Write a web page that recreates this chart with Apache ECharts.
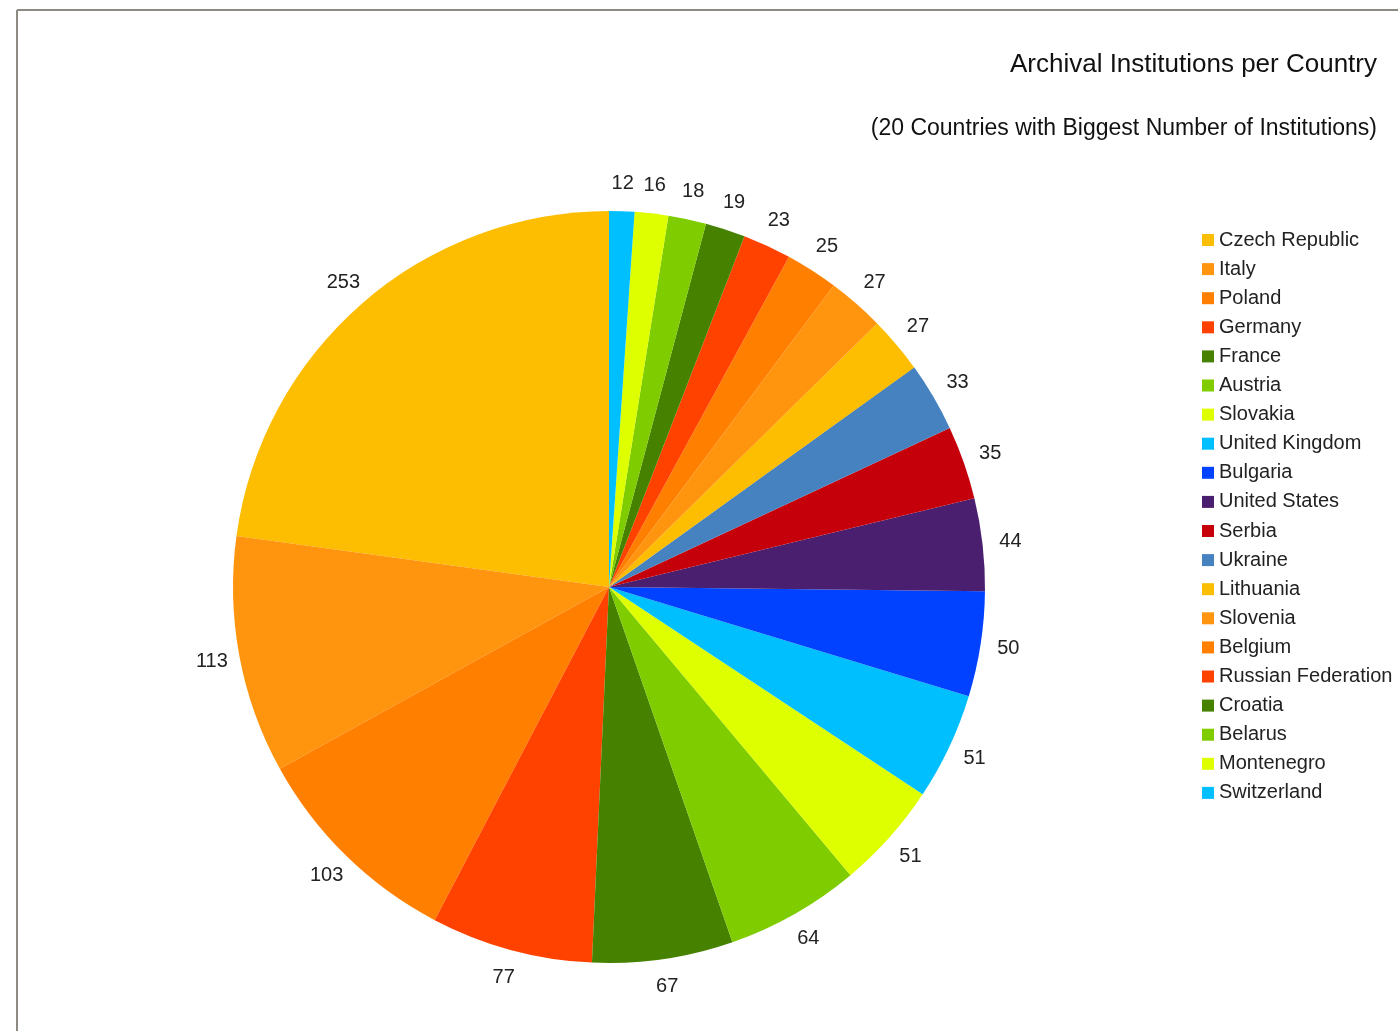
<!DOCTYPE html>
<html>
<head>
<meta charset="utf-8">
<script src="https://cdn.jsdelivr.net/npm/echarts@6/dist/echarts.min.js"></script>
<style>
html,body{margin:0;padding:0;background:#fff;}
#chart{width:1398px;height:1031px;}
</style>
</head>
<body>
<div id="chart"></div>
<script>
const countries = ["Czech Republic","Italy","Poland","Germany","France","Austria","Slovakia","United Kingdom","Bulgaria","United States","Serbia","Ukraine","Lithuania","Slovenia","Belgium","Russian Federation","Croatia","Belarus","Montenegro","Switzerland"];
const institutions = [253,113,103,77,67,64,51,51,50,44,35,33,27,27,25,23,19,18,16,12];
const palette = ["#fdbd00","#ff950e","#ff8000","#ff4200","#468200","#7fcc00","#ddff00","#00bfff","#0042ff","#4b1f6f","#c5000b","#4682c0"];

const data = countries.map((c, i) => ({ name: c, value: institutions[i] }));

const chart = echarts.init(document.getElementById('chart'), null, { renderer: 'canvas' });
chart.setOption({
  animation: false,
  color: palette,
  textStyle: { fontFamily: 'Liberation Sans, Arial, sans-serif' },
  title: [
    { text: 'Archival Institutions per Country', right: 16, top: 47,
      textStyle: { fontSize: 26, fontWeight: 'normal', color: '#111', fontFamily: 'Liberation Sans' } },
    { text: '(20 Countries with Biggest Number of Institutions)', right: 16, top: 112,
      textStyle: { fontSize: 23, fontWeight: 'normal', color: '#111', fontFamily: 'Liberation Sans' } }
  ],
  legend: {
    orient: 'vertical', left: 1197, top: 225,
    data: countries,
    icon: 'rect', itemWidth: 12, itemHeight: 12, itemGap: 9.1,
    textStyle: { fontSize: 20, lineHeight: 20, color: '#222', fontFamily: 'Liberation Sans' }
  },
  graphic: [
    { type: 'line', shape: { x1: 17, y1: 10, x2: 1398, y2: 10 }, style: { stroke: '#8c8a82', lineWidth: 2 } },
    { type: 'line', shape: { x1: 17, y1: 10, x2: 17, y2: 1031 }, style: { stroke: '#8c8a82', lineWidth: 2 } }
  ],
  series: [
    {
      type: 'pie', center: [609, 587], radius: [0, 376],
      startAngle: 90, clockwise: false, silent: true,
      label: { show: false }, labelLine: { show: false },
      data: data
    },
    {
      type: 'pie', center: [609, 587], radius: [376, 426],
      startAngle: 90, clockwise: false, silent: true,
      itemStyle: { color: 'rgba(0,0,0,0)' },
      label: { show: true, position: 'inside', formatter: '{c}', fontSize: 20, color: '#222', fontFamily: 'Liberation Sans' },
      labelLine: { show: false },
      data: data
    }
  ]
});
</script>
</body>
</html>
